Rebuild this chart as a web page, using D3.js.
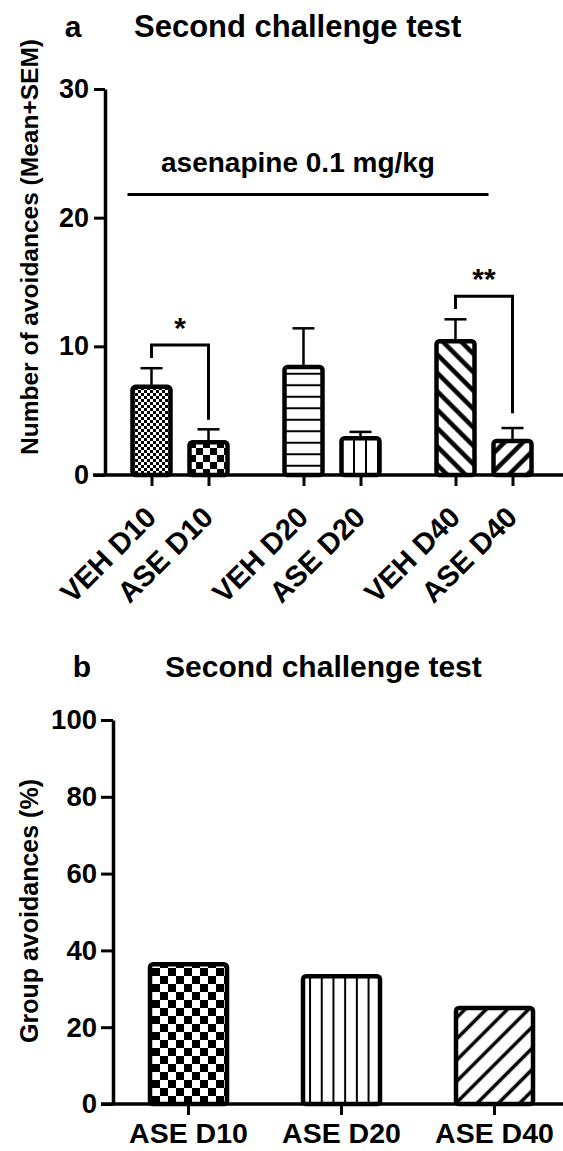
<!DOCTYPE html>
<html>
<head>
<meta charset="utf-8">
<script src="https://cdn.jsdelivr.net/npm/d3@7/dist/d3.min.js"></script>
<style>
  body { margin: 0; background: #fff; }
  text { font-family: 'Liberation Sans', Arial, sans-serif; font-weight: bold; fill: #000; }
</style>
</head>
<body>
<div id="chart-area"></div>
<script>
// ---- data, panel a ----
var groups = ['D10', 'D20', 'D40']
var treatments = ['VEH', 'ASE']
var labelsA = ['VEH D10', 'ASE D10', 'VEH D20', 'ASE D20', 'VEH D40', 'ASE D40']
var meansA = [6.85, 2.55, 8.4, 2.85, 10.4, 2.65]
var semA = [1.45, 1.0, 3.0, 0.5, 1.7, 1.0]
var ticksA = [0, 10, 20, 30]
var patternsA = ['checkFine', 'checkCoarse', 'hLines', 'vLines', 'diagDown', 'diagUp']

// significance brackets (in data units)
var sigLabels = ['*', '**']
var sigPairs = [[0, 1], [4, 5]]
var sigTop = [10.1, 13.9]
var sigLeftEnd = [9.1, 12.9]
var sigRightEnd = [4.3, 4.8]
var drugLabel = 'asenapine 0.1 mg/kg'
var drugLevel = 21.8

// ---- data, panel b ----
var labelsB = ['ASE D10', 'ASE D20', 'ASE D40']
var valuesB = [36.4, 33.3, 25.0]
var ticksB = [0, 20, 40, 60, 80, 100]
var patternsB = ['checkB', 'vLinesB', 'diagUpB']

var svg = d3.select('#chart-area')
  .append('svg')
  .attr('width', 563)
  .attr('height', 1151)

// patterns
var defs = svg.append('defs')

function checker (id, s) {
  var p = defs.append('pattern').attr('id', id)
    .attr('patternUnits', 'userSpaceOnUse')
    .attr('width', s * 2).attr('height', s * 2)
  p.append('rect').attr('width', s * 2).attr('height', s * 2).attr('fill', '#fff')
  p.append('rect').attr('width', s).attr('height', s).attr('fill', '#000')
  p.append('rect').attr('x', s).attr('y', s).attr('width', s).attr('height', s).attr('fill', '#000')
}
function lines (id, s, w, dir) {
  var p = defs.append('pattern').attr('id', id)
    .attr('patternUnits', 'userSpaceOnUse')
    .attr('width', s).attr('height', s)
  if (dir === 'down') p.attr('patternTransform', 'rotate(45)')
  if (dir === 'up') p.attr('patternTransform', 'rotate(-45)')
  if (dir === 'v') p.attr('patternTransform', 'rotate(90)')
  p.append('rect').attr('width', s).attr('height', s).attr('fill', '#fff')
  p.append('rect').attr('y', s / 2 - w / 2).attr('width', s).attr('height', w).attr('fill', '#000')
}
checker('checkFine', 3)
checker('checkCoarse', 7)
lines('hLines', 11.5, 2, 'h')
lines('vLines', 12, 2, 'v')
lines('diagDown', 13, 4.5, 'down')
lines('diagUp', 13, 4.5, 'up')
checker('checkB', 8)
lines('vLinesB', 11.7, 2, 'v')
lines('diagUpB', 15, 3.5, 'up')

// ================= panel a =================
var yA = d3.scaleLinear().domain([0, 30]).range([475, 89])
var x0 = d3.scaleBand().domain(groups).range([104, 560])
var x1 = d3.scaleBand().domain(treatments).range([19, 133])
function centerA (i) {
  return x0(groups[Math.floor(i / 2)]) + x1(treatments[i % 2]) + x1.bandwidth() / 2
}
var xA = d3.scaleOrdinal().domain(labelsA).range(labelsA.map(function (d, i) { return centerA(i) }))
var barW = 38

var gA = svg.append('g')

// titles
svg.append('text').attr('x', 73).attr('y', 37).attr('text-anchor', 'middle')
  .attr('font-size', '30px').text('a')
svg.append('text').attr('x', 134).attr('y', 37)
  .attr('font-size', '31px').text('Second challenge test')

// y axis label
svg.append('text')
  .attr('transform', 'translate(38, 247) rotate(-90)')
  .attr('text-anchor', 'middle')
  .attr('font-size', '24.5px')
  .text('Number of avoidances (Mean+SEM)')

// bars
gA.selectAll('rect.bar')
  .data(meansA)
  .enter().append('rect')
  .attr('class', 'bar')
  .attr('x', function (d, i) { return xA(labelsA[i]) - barW / 2 })
  .attr('y', function (d) { return yA(d) })
  .attr('width', barW)
  .attr('height', function (d) { return yA(0) - yA(d) })
  .attr('rx', 3)
  .attr('fill', function (d, i) { return 'url(#' + patternsA[i] + ')' })
  .attr('stroke', '#000')
  .attr('stroke-width', 4.5)

// error bars
var errA = gA.selectAll('g.err')
  .data(meansA)
  .enter().append('g')
  .attr('class', 'err')
errA.append('line')
  .attr('x1', function (d, i) { return xA(labelsA[i]) })
  .attr('x2', function (d, i) { return xA(labelsA[i]) })
  .attr('y1', function (d) { return yA(d) - 2 })
  .attr('y2', function (d, i) { return yA(d + semA[i]) })
  .attr('stroke', '#000').attr('stroke-width', 2.5)
errA.append('line')
  .attr('x1', function (d, i) { return xA(labelsA[i]) - 11 })
  .attr('x2', function (d, i) { return xA(labelsA[i]) + 11 })
  .attr('y1', function (d, i) { return yA(d + semA[i]) })
  .attr('y2', function (d, i) { return yA(d + semA[i]) })
  .attr('stroke', '#000').attr('stroke-width', 2.5)

// y axis
var yAxisA = gA.append('g')
  .attr('transform', 'translate(105, 0)')
  .call(d3.axisLeft(yA).tickValues(ticksA).tickSize(11).tickSizeOuter(0).tickPadding(5))
yAxisA.select('.domain').attr('stroke-width', 3.5)
yAxisA.selectAll('.tick line').attr('stroke-width', 3)
yAxisA.selectAll('.tick text').attr('font-size', '27px').attr('font-family', null)

// x axis
gA.append('line')
  .attr('x1', 93).attr('x2', 563)
  .attr('y1', yA(0)).attr('y2', yA(0))
  .attr('stroke', '#000').attr('stroke-width', 3.5)
var xAxisA = gA.append('g')
  .attr('transform', 'translate(0, ' + yA(0) + ')')
  .call(d3.axisBottom(xA).tickSize(11).tickSizeOuter(0))
xAxisA.select('.domain').remove()
xAxisA.selectAll('.tick line').attr('stroke-width', 3)
xAxisA.selectAll('.tick text')
  .attr('font-size', '29px').attr('font-family', null)
  .attr('text-anchor', 'end')
  .attr('x', 0).attr('y', 0).attr('dy', 0)
  .attr('transform', 'translate(6, 44) rotate(-45)')

// drug line
svg.append('text').attr('x', 298).attr('y', 172).attr('text-anchor', 'middle')
  .attr('font-size', '28px').text(drugLabel)
svg.append('line')
  .attr('x1', xA(labelsA[0]) - 24).attr('x2', xA(labelsA[5]) - 24)
  .attr('y1', yA(drugLevel)).attr('y2', yA(drugLevel))
  .attr('stroke', '#000').attr('stroke-width', 3)

// significance brackets
sigPairs.forEach(function (p, k) {
  var xl = xA(labelsA[p[0]])
  var xr = xA(labelsA[p[1]])
  svg.append('path')
    .attr('d', 'M' + xl + ',' + yA(sigLeftEnd[k]) + 'V' + yA(sigTop[k]) + 'H' + xr + 'V' + yA(sigRightEnd[k]))
    .attr('fill', 'none').attr('stroke', '#000').attr('stroke-width', 3)
  svg.append('text')
    .attr('x', (xl + xr) / 2).attr('y', yA(sigTop[k]) - 7)
    .attr('text-anchor', 'middle').attr('font-size', '30px')
    .text(sigLabels[k])
})

// ================= panel b =================
var yB = d3.scaleLinear().domain([0, 100]).range([1104, 720])
var xB = d3.scaleBand().domain(labelsB).range([112, 571])
var barWB = 77

svg.append('text').attr('x', 82).attr('y', 677).attr('text-anchor', 'middle')
  .attr('font-size', '30px').text('b')
svg.append('text').attr('x', 165).attr('y', 677)
  .attr('font-size', '30px').text('Second challenge test')

svg.append('text')
  .attr('transform', 'translate(38, 911) rotate(-90)')
  .attr('text-anchor', 'middle')
  .attr('font-size', '25px')
  .text('Group avoidances (%)')

var gB = svg.append('g')
gB.selectAll('rect.bar')
  .data(valuesB)
  .enter().append('rect')
  .attr('class', 'bar')
  .attr('x', function (d, i) { return xB(labelsB[i]) + xB.bandwidth() / 2 - barWB / 2 })
  .attr('y', function (d) { return yB(d) })
  .attr('width', barWB)
  .attr('height', function (d) { return yB(0) - yB(d) })
  .attr('rx', 3)
  .attr('fill', function (d, i) { return 'url(#' + patternsB[i] + ')' })
  .attr('stroke', '#000')
  .attr('stroke-width', 4.5)

var yAxisB = gB.append('g')
  .attr('transform', 'translate(113, 0)')
  .call(d3.axisLeft(yB).tickValues(ticksB).tickSize(12).tickSizeOuter(0).tickPadding(4))
yAxisB.select('.domain').attr('stroke-width', 3.5)
yAxisB.selectAll('.tick line').attr('stroke-width', 3)
yAxisB.selectAll('.tick text').attr('font-size', '27.5px').attr('font-family', null)

gB.append('line')
  .attr('x1', 101).attr('x2', 563)
  .attr('y1', yB(0)).attr('y2', yB(0))
  .attr('stroke', '#000').attr('stroke-width', 3.5)
var xAxisB = gB.append('g')
  .attr('transform', 'translate(0, ' + yB(0) + ')')
  .call(d3.axisBottom(xB).tickSize(11).tickSizeOuter(0).tickPadding(8))
xAxisB.select('.domain').remove()
xAxisB.selectAll('.tick line').attr('stroke-width', 3)
xAxisB.selectAll('.tick text').attr('font-size', '28.5px').attr('font-family', null)
</script>
</body>
</html>
